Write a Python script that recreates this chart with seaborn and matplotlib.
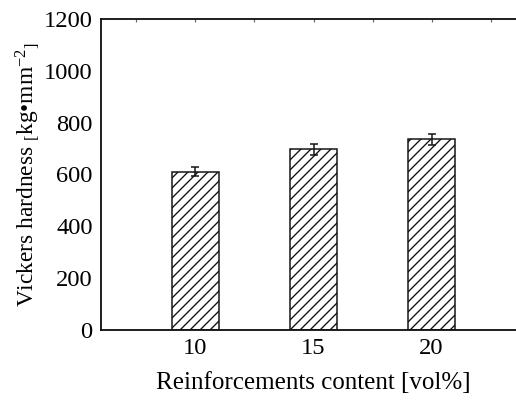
import matplotlib
matplotlib.use("Agg")
import matplotlib.pyplot as plt
from matplotlib.ticker import MultipleLocator
import seaborn as sns
import pandas as pd

# Hardness measurements
content = [10, 15, 20]          # vol%
hardness = [610, 697, 736]      # kg/mm^2
hardness_err = [17, 22, 22]

sns.set_theme(style="white")
plt.rcParams["font.family"] = ["Liberation Serif", "DejaVu Serif"]
plt.rcParams["mathtext.fontset"] = "custom"
plt.rcParams["mathtext.rm"] = "Liberation Serif"
plt.rcParams["mathtext.it"] = "Liberation Serif:italic"
plt.rcParams["hatch.linewidth"] = 0.8
plt.rcParams["hatch.color"] = "#222222"

df = pd.DataFrame({"content": content, "hardness": hardness})

fig = plt.figure(figsize=(516 / 120, 401 / 120), dpi=120)
ax = fig.add_axes([101 / 516, 71.5 / 401, 425 / 516, 310.2 / 401])

sns.barplot(data=df, x="content", y="hardness", native_scale=True, width=0.4,
            color="white", edgecolor="#111111", linewidth=0.9, errorbar=None,
            ax=ax)
for p in ax.patches:
    p.set_hatch("////")
    p.set_facecolor("white")

ax.errorbar(content, hardness, yerr=hardness_err, fmt="none", ecolor="#111111",
            elinewidth=0.9, capsize=2.2, capthick=0.9)

ax.set_xlim(6, 24)
ax.set_ylim(0, 1200)
ax.xaxis.set_major_locator(MultipleLocator(5))
ax.xaxis.set_minor_locator(MultipleLocator(2.5))
ax.yaxis.set_major_locator(MultipleLocator(200))

for s in ax.spines.values():
    s.set_color("#111111")
    s.set_linewidth(1.1)

ax.tick_params(axis="both", which="both", direction="in", top=True, right=True,
               color="#666666", width=0.7)
ax.tick_params(axis="both", which="major", labelsize=14.7, labelcolor="black")
ax.tick_params(axis="x", which="major", length=2, pad=5)
ax.tick_params(axis="x", which="minor", length=1.5)
ax.tick_params(axis="y", which="major", length=4, pad=5)
ax.tick_params(axis="y", which="minor", left=False, right=False)

ax.set_xlabel("Reinforcements content [vol%]", fontsize=15, labelpad=8,
              color="black")
ax.set_ylabel("Vickers hardness $_{[}$kg•mm$^{-2}$$_{]}$", fontsize=14,
              labelpad=1.5, color="black")

fig.savefig("out.png", dpi=120)
